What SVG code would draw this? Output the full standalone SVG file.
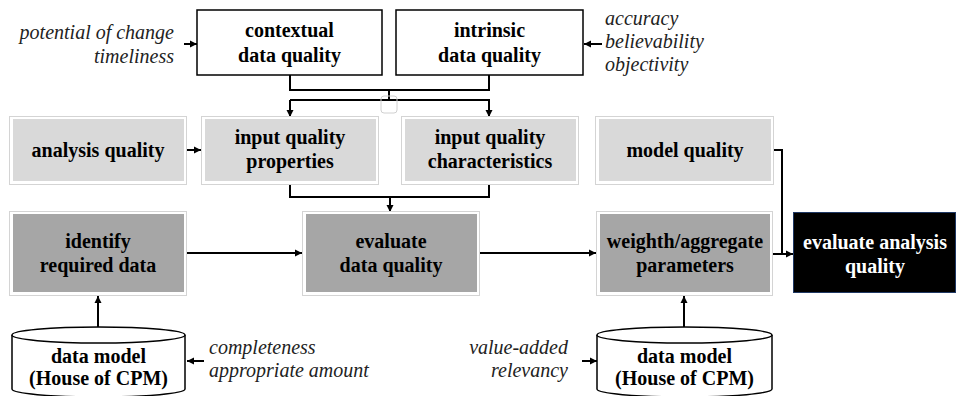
<svg xmlns="http://www.w3.org/2000/svg" width="956" height="396" viewBox="0 0 956 396">
<style>
text{font-family:'Liberation Serif','Times New Roman',serif}
.b{font-weight:bold;font-size:20px;text-anchor:middle;fill:#000}
.w{fill:#fff}
.i{font-style:italic;font-size:20px;fill:#222}
.frame{fill:#fff;stroke:#d4d4d4;stroke-width:1}
.lg{fill:#d9d9d9}
.dg{fill:#a6a6a6}
.wb{fill:#fff;stroke:#000;stroke-width:1.5}
.c{fill:none;stroke:#000;stroke-width:2}
</style>
<defs>
<marker id="a" markerWidth="8" markerHeight="8" refX="7" refY="4" orient="auto" markerUnits="userSpaceOnUse">
<path d="M0,0.5 L7,4 L0,7.5 z" fill="#000"/>
</marker>
</defs>

<g id="connectors">
<path class="c" d="M290,75 V90 H489 V75"/>
<path class="c" d="M389,90 V100"/>
<path class="c" d="M290,100 H489 V117" marker-end="url(#a)"/>
<path class="c" d="M290,100 V117" marker-end="url(#a)"/>
<path class="c" d="M184,44 H197" marker-end="url(#a)"/>
<path class="c" d="M602,44 H584" marker-end="url(#a)"/>
<path class="c" d="M186,150 H201" marker-end="url(#a)"/>
<path class="c" d="M290,184 V197 H489 V184"/>
<path class="c" d="M390,197 V212" marker-end="url(#a)"/>
<path class="c" d="M773,150 H782 V254"/>
<path class="c" d="M771,254 H793" marker-end="url(#a)"/>
<path class="c" d="M186,253 H302" marker-end="url(#a)"/>
<path class="c" d="M479,253 H596" marker-end="url(#a)"/>
<path class="c" d="M98,327 V296" marker-end="url(#a)"/>
<path class="c" d="M684,327 V296" marker-end="url(#a)"/>
<path class="c" d="M204,361 H187" marker-end="url(#a)"/>
<path class="c" d="M582,361 H597" marker-end="url(#a)"/>
<rect x="381" y="96" width="16" height="17" rx="3" fill="none" stroke="#d0d0d0" stroke-width="1"/>
</g>

<g id="contextual">
<rect class="wb" x="197" y="10" width="185" height="65"/>
<text class="b" x="289.5" y="37">contextual</text>
<text class="b" x="289.5" y="62">data quality</text>
</g>
<g id="intrinsic">
<rect class="wb" x="396" y="10" width="187" height="65"/>
<text class="b" x="489.5" y="37">intrinsic</text>
<text class="b" x="489.5" y="62">data quality</text>
</g>
<g id="contextual-attrs">
<text class="i" x="174" y="39" text-anchor="end">potential of change</text>
<text class="i" x="174" y="63" text-anchor="end">timeliness</text>
</g>
<g id="intrinsic-attrs">
<text class="i" x="605" y="25">accuracy</text>
<text class="i" x="605" y="48">believability</text>
<text class="i" x="605" y="71">objectivity</text>
</g>

<g id="analysis-quality">
<rect class="frame" x="9.5" y="116.5" width="177" height="68"/>
<rect class="lg" x="13" y="119" width="171" height="62"/>
<text class="b" x="98" y="157">analysis quality</text>
</g>
<g id="input-quality-properties">
<rect class="frame" x="201.5" y="116.5" width="177" height="68"/>
<rect class="lg" x="205" y="119" width="171" height="62"/>
<text class="b" x="290" y="144">input quality</text>
<text class="b" x="290" y="168">properties</text>
</g>
<g id="input-quality-characteristics">
<rect class="frame" x="401.5" y="116.5" width="177" height="68"/>
<rect class="lg" x="405" y="119" width="171" height="62"/>
<text class="b" x="490" y="144">input quality</text>
<text class="b" x="490" y="168">characteristics</text>
</g>
<g id="model-quality">
<rect class="frame" x="595.5" y="116.5" width="178" height="68"/>
<rect class="lg" x="599" y="119" width="172" height="62"/>
<text class="b" x="685" y="157">model quality</text>
</g>

<g id="identify-required-data">
<rect class="frame" x="9.5" y="211.5" width="177" height="84"/>
<rect class="dg" x="13" y="214" width="171" height="78"/>
<text class="b" x="98" y="248">identify</text>
<text class="b" x="98" y="272">required data</text>
</g>
<g id="evaluate-data-quality">
<rect class="frame" x="302.5" y="211.5" width="177" height="84"/>
<rect class="dg" x="306" y="214" width="171" height="78"/>
<text class="b" x="391" y="248">evaluate</text>
<text class="b" x="391" y="272">data quality</text>
</g>
<g id="weighth-aggregate">
<rect class="frame" x="596.5" y="211.5" width="176" height="84"/>
<rect class="dg" x="600" y="214" width="170" height="78"/>
<text class="b" x="685" y="248">weighth/aggregate</text>
<text class="b" x="685" y="272">parameters</text>
</g>
<g id="evaluate-analysis-quality">
<rect x="793.5" y="212.5" width="162" height="80" fill="#000" stroke="#1f3864" stroke-width="1"/>
<text class="b w" x="875" y="249">evaluate analysis</text>
<text class="b w" x="875" y="273">quality</text>
</g>

<g id="data-model-1">
<path d="M12,335 V389 A86.5,8 0 0 0 185,389 V335" fill="#fff" stroke="#000" stroke-width="1.5"/>
<ellipse cx="98.5" cy="335" rx="86.5" ry="8" fill="#fff" stroke="#000" stroke-width="1.5"/>
<text class="b" x="98.5" y="363">data model</text>
<text class="b" x="98.5" y="385">(House of CPM)</text>
</g>
<g id="data-model-1-attrs">
<text class="i" x="209" y="354">completeness</text>
<text class="i" x="209" y="377">appropriate amount</text>
</g>
<g id="data-model-2">
<path d="M597,335 V389 A87.5,8 0 0 0 772,389 V335" fill="#fff" stroke="#000" stroke-width="1.5"/>
<ellipse cx="684.5" cy="335" rx="87.5" ry="8" fill="#fff" stroke="#000" stroke-width="1.5"/>
<text class="b" x="684.5" y="363">data model</text>
<text class="b" x="684.5" y="385">(House of CPM)</text>
</g>
<g id="data-model-2-attrs">
<text class="i" x="568" y="354" text-anchor="end">value-added</text>
<text class="i" x="568" y="377" text-anchor="end">relevancy</text>
</g>
</svg>
